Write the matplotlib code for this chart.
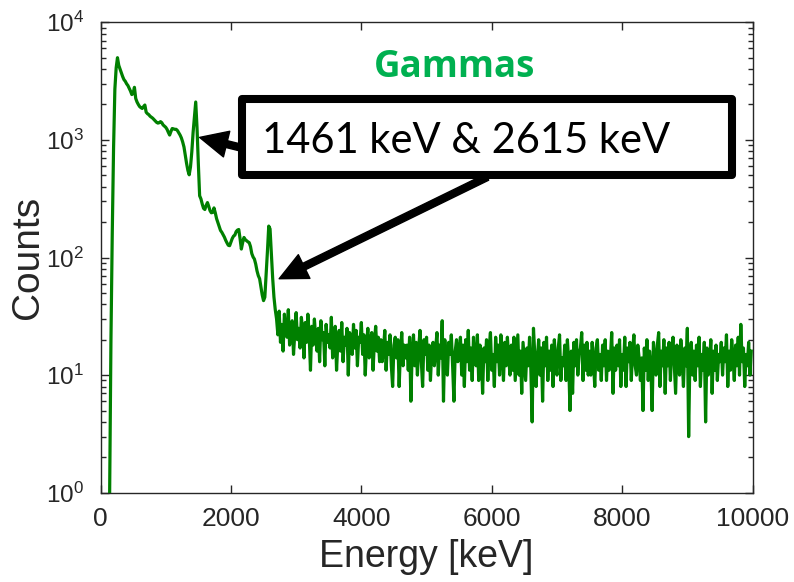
import numpy as np
import matplotlib
matplotlib.use("Agg")
import matplotlib.pyplot as plt
from matplotlib.patches import Rectangle
from matplotlib.ticker import NullLocator, LogLocator

plt.rcParams['font.family'] = ['Liberation Sans', 'DejaVu Sans']
plt.rcParams['mathtext.fontset'] = 'custom'
plt.rcParams['mathtext.rm'] = 'Liberation Sans'
plt.rcParams['mathtext.it'] = 'Liberation Sans'
plt.rcParams['mathtext.default'] = 'regular'

# ---------------- data ----------------
bin_width_kev = 20

# counts for 0 ... 2680 keV
counts_low = [
    0, 0, 0, 0, 0, 0, 0, 1, 20, 160,
    850, 2700, 4100, 5000, 4300, 4000, 3700, 3450, 3250, 3150,
    3000, 2900, 2750, 2600, 2430, 2480, 2800, 2250, 2100, 2000,
    1920, 1880, 1850, 1920, 1980, 1720, 1670, 1640, 1590, 1560,
    1530, 1490, 1450, 1410, 1390, 1400, 1430, 1400, 1340, 1310,
    1280, 1230, 1160, 1100, 1180, 1250, 1240, 1230, 1230, 1200,
    1150, 1100, 1040, 960, 870, 740, 630, 550, 505, 590,
    790, 1160, 1550, 2100, 1270, 630, 335, 315, 285, 262,
    256, 277, 293, 272, 250, 240, 242, 264, 240, 214,
    198, 182, 170, 164, 156, 149, 140, 133, 127, 126,
    135, 145, 152, 155, 166, 171, 173, 145, 118, 134,
    148, 142, 139, 136, 134, 124, 108, 101, 97, 88,
    77, 70, 66, 56, 48, 43, 46, 72, 113, 185,
    175, 108, 67, 46, 36,
]

# counts for 2700 ... 9980 keV
counts_tail = [
    30, 22, 35, 19, 27, 16, 33, 24, 21, 36, 18, 26, 29, 15, 23, 34, 20, 25, 17, 31,
    24, 14, 28, 19, 33, 22, 11, 26, 18, 30, 21, 16, 25, 13, 29, 20, 23, 12, 27, 19,
    22, 17, 31, 14, 20, 26, 11, 19, 24, 16, 28, 13, 21, 18, 25, 10, 23, 20, 15, 27,
    17, 24, 12, 21, 19, 28, 15, 22, 10, 18, 25, 14, 20, 23, 11, 19, 26, 16, 21, 13,
    20, 13, 17, 24, 11, 19, 15, 22, 12, 8, 18, 21, 14, 20, 8, 16, 23, 12, 18, 14,
    18, 11, 21, 6, 16, 22, 12, 19, 10, 17, 24, 13, 8, 20, 15, 21, 11, 18, 9, 16,
    19, 12, 17, 23, 10, 18, 14, 29, 6, 20, 13, 10, 19, 15, 22, 12, 6, 16, 20, 13,
    16, 21, 10, 18, 8, 20, 13, 24, 11, 17, 9, 21, 14, 12, 22, 9, 18, 15, 7, 17,
    13, 20, 9, 17, 23, 11, 15, 8, 21, 13, 18, 10, 22, 15, 9, 19, 12, 21, 14, 10,
    18, 11, 21, 9, 14, 22, 10, 16, 7, 19, 13, 9, 17, 12, 21, 11, 4, 25, 15, 8,
    14, 20, 10, 17, 6, 19, 12, 21, 9, 16, 11, 18, 8, 20, 13, 10, 17, 22, 9, 14,
    12, 18, 9, 20, 13, 5, 16, 7, 19, 12, 20, 10, 15, 17, 23, 9, 18, 11, 19, 10,
    16, 10, 19, 13, 8, 17, 20, 11, 15, 9, 18, 12, 20, 9, 16, 11, 14, 23, 7, 17,
    11, 18, 12, 20, 8, 15, 11, 21, 8, 17, 13, 19, 9, 16, 22, 12, 10, 18, 14, 9,
    14, 5, 17, 11, 20, 9, 16, 12, 5, 19, 14, 10, 18, 23, 8, 16, 12, 20, 7, 17,
    12, 19, 9, 16, 21, 12, 7, 18, 13, 10, 20, 14, 8, 17, 12, 25, 3, 15, 19, 10,
    16, 9, 18, 12, 21, 8, 15, 11, 19, 4, 17, 10, 13, 20, 7, 16, 11, 18, 9, 15,
    13, 19, 10, 17, 13, 22, 8, 16, 11, 20, 14, 9, 18, 12, 21, 10, 27, 13, 17, 8,
    15, 12, 19, 10, 16,
]

x_ticks = [0, 2000, 4000, 6000, 8000, 10000]
y_limits = [1, 1e4]
x_limits = [0, 10000]
title_text = 'Gammas'
box_text = '1461 keV & 2615 keV'
arrow_targets = [(1520, 1050), (2740, 66)]   # (keV, counts) the arrows point at

counts = np.array(counts_low + counts_tail, dtype=float)
energy = np.arange(len(counts)) * bin_width_kev

# ---------------- figure ----------------
fig = plt.figure(figsize=(7.94, 5.82), dpi=100)
ax = fig.add_axes([0.1266, 0.1534, 0.8212, 0.8083])

ax.plot(energy, counts, color='#008000', lw=2.3, zorder=3)

ax.set_yscale('log')
ax.set_xlim(*x_limits)
ax.set_ylim(*y_limits)
ax.set_xticks(x_ticks)
ax.xaxis.set_minor_locator(NullLocator())
ax.yaxis.set_major_locator(LogLocator(base=10, numticks=10))
ax.yaxis.set_minor_locator(LogLocator(base=10, subs=np.arange(2, 10), numticks=10))

ink = '#262626'
for s in ax.spines.values():
    s.set_color(ink)
    s.set_linewidth(1.0)
ax.tick_params(which='both', direction='in', top=True, right=True,
               colors=ink, width=1.0)
ax.tick_params(which='major', length=5.5)
ax.tick_params(which='minor', length=3.5)
ax.tick_params(axis='x', which='major', pad=10, labelsize=19)
ax.tick_params(axis='y', which='major', pad=12, labelsize=17.5)

ax.set_xlabel('Energy [keV]', fontsize=27, color=ink, labelpad=6)
ax.set_ylabel('Counts', fontsize=28, color=ink, labelpad=0)

ax.text(0.5437, 0.8844, title_text, transform=ax.transAxes, ha='center',
        va='baseline', fontsize=26.5, fontweight='bold', color='#00B050',
        family=['Open Sans', 'DejaVu Sans'], zorder=6)

# arrows
for (tx, ty), start in zip(arrow_targets, [(0.217, 0.733), (0.593, 0.671)]):
    ax.annotate('', xy=(tx, ty), xycoords='data', xytext=start,
                textcoords='axes fraction',
                arrowprops=dict(width=5, headwidth=19, headlength=20,
                                facecolor='black', edgecolor='black', shrink=0),
                zorder=4)

box = Rectangle((0.217, 0.6754), 0.9686 - 0.217, 0.837 - 0.6754,
                transform=ax.transAxes, lw=5.8, ec='black', fc='white',
                joinstyle='round', zorder=5, clip_on=False)
ax.add_patch(box)
ax.text(0.2477, 0.722, box_text, transform=ax.transAxes, fontsize=30,
        family=['Lato', 'DejaVu Sans'], va='baseline', ha='left', zorder=6,
        color='black')

fig.savefig('out.png', dpi=100)
